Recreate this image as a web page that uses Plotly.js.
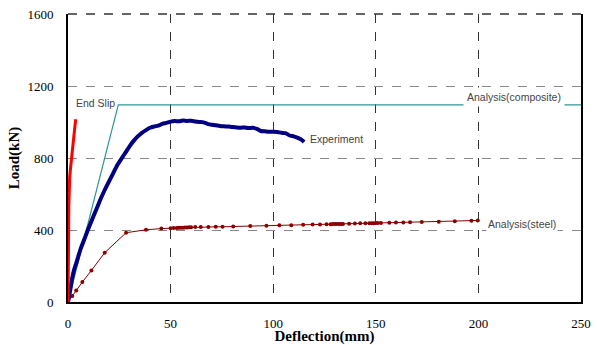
<!DOCTYPE html>
<html><head><meta charset="utf-8">
<script src="https://cdn.plot.ly/plotly-3.0.1.min.js"></script>
<style>html,body{margin:0;padding:0;background:#fff}#chart{width:597px;height:345px}</style>
</head><body><div id="chart"></div>
<script>
// Analysis (composite)
const compX = [0, 24.5, 250];
const compY = [0, 1095, 1095];
// End slip (red)
const slipX = [0, 0.1, 0.2, 0.3, 0.4, 0.5, 0.8, 1.2, 1.6, 2.0, 2.4, 2.8, 3.2, 3.5, 3.8];
const slipY = [0, 60, 200, 380, 530, 620, 690, 740, 790, 830, 880, 920, 960, 990, 1015];
// Experiment (navy)
const expX = [0, 1, 2, 3, 4, 6, 8, 10, 12, 14, 16, 18, 20, 22, 24, 26, 28, 30, 32, 34, 36, 38, 40, 42, 44, 46, 48, 50, 52, 54, 56, 58, 60, 62, 64, 66, 68, 70, 72, 74, 76, 78, 80, 82, 84, 86, 88, 90, 92, 94, 96, 98, 100, 102, 104, 106, 108, 110, 112, 114, 115];
const expY = [0, 60, 130, 180, 215, 290, 350, 410, 465, 520, 575, 625, 670, 715, 760, 795, 830, 865, 895, 920, 940, 955, 968, 975, 980, 990, 995, 1002, 1005, 1004, 1008, 1006, 1007, 1003, 1000, 998, 990, 985, 982, 978, 976, 975, 972, 970, 968, 970, 966, 968, 962, 950, 948, 946, 946, 945, 940, 938, 925, 920, 912, 900, 888];
// Analysis (steel)
const steelX = [0, 2.1, 4, 7, 11.4, 17.9, 28.3, 38, 45.5, 50, 51.5, 53, 54, 55, 56, 57, 58, 59, 60, 62, 64.7, 68.4, 72, 75.3, 80.5, 88.8, 96.7, 103, 108.8, 114.6, 119.2, 122.8, 126, 128, 129, 130, 131, 132, 133, 134, 137, 139.8, 142.4, 144.9, 146.8, 148, 149, 150, 151, 152.5, 156.6, 159.8, 163.4, 166.7, 172.4, 180.7, 188.5, 196.6, 199.7];
const steelY = [0, 34, 64, 111, 175, 274, 385, 401, 408, 410, 411, 411, 412, 413, 413, 414, 414, 415, 415, 416, 416, 417, 418, 418, 420, 422, 424, 426, 427, 429, 430, 431, 432, 432, 433, 433, 433, 434, 434, 434, 435, 436, 437, 437, 438, 438, 438, 439, 439, 439, 440, 441, 442, 443, 444, 446, 449, 451, 453];
const xTicks = [0, 50, 100, 150, 200, 250];
const yTicks = [0, 400, 800, 1200, 1600];

const traces = [
  {x: compX, y: compY, mode: 'lines', line: {color: '#2e9696', width: 1.2}, hoverinfo: 'skip'},
  {x: steelX, y: steelY, mode: 'lines+markers', line: {color: '#8b0000', width: 1}, marker: {color: '#8b0000', size: 4}},
  {x: expX, y: expY, mode: 'lines', line: {color: '#000080', width: 4, shape: 'spline', smoothing: 0.6}},
  {x: slipX, y: slipY, mode: 'lines', line: {color: '#ff0000', width: 3}}
];
const serif = 'Liberation Serif, Times New Roman, serif';
const sans = 'Liberation Sans, Arial, sans-serif';
const layout = {
  width: 597, height: 345,
  margin: {l: 68, r: 16, t: 14, b: 43},
  paper_bgcolor: '#fff', plot_bgcolor: '#fff',
  showlegend: false,
  xaxis: {
    range: [0, 250], tickvals: xTicks, ticktext: xTicks.map(String),
    showgrid: true, gridcolor: '#333', griddash: 'dash', gridwidth: 1,
    zeroline: false, showline: true, linecolor: '#000', linewidth: 2,
    ticks: '', ticklabelstandoff: 8, tickfont: {family: serif, size: 13, color: '#000'},
    title: {text: '<b>Deflection(mm)</b>', font: {family: serif, size: 15, color: '#000'}, standoff: 2}
  },
  yaxis: {
    range: [0, 1600], tickvals: yTicks, ticktext: yTicks.map(String),
    showgrid: true, gridcolor: '#888', griddash: 'dash', gridwidth: 1,
    zeroline: false, showline: true, mirror: true, linecolor: '#000', linewidth: 2,
    ticks: '', ticklabelstandoff: 10, tickfont: {family: serif, size: 13, color: '#000'},
    title: {text: '<b>Load(kN)</b>', font: {family: serif, size: 15, color: '#000'}, standoff: 4}
  },
  shapes: [
    {type: 'line', xref: 'paper', yref: 'paper', x0: 0, x1: 1, y0: 1, y1: 1, line: {color: '#333', width: 1.5, dash: 'dash'}}
  ],
  annotations: [
    {x: 3, y: 1108, xref: 'x', yref: 'y', text: 'End Slip', showarrow: false, xanchor: 'left', font: {family: sans, size: 10.5, color: '#444'}},
    {x: 217.3, y: 1140, xref: 'x', yref: 'y', text: 'Analysis(composite)', showarrow: false, xanchor: 'center', bgcolor: '#fff', borderpad: 3, font: {family: sans, size: 10.5, color: '#444'}},
    {x: 117.2, y: 905, xref: 'x', yref: 'y', text: 'Experiment', showarrow: false, xanchor: 'left', bgcolor: '#fff', font: {family: sans, size: 10.5, color: '#444'}},
    {x: 203.6, y: 434, xref: 'x', yref: 'y', text: 'Analysis(steel)', showarrow: false, xanchor: 'left', bgcolor: '#fff', font: {family: sans, size: 10.5, color: '#444'}}
  ]
};
Plotly.newPlot('chart', traces, layout, {staticPlot: true, displayModeBar: false});
</script></body></html>
